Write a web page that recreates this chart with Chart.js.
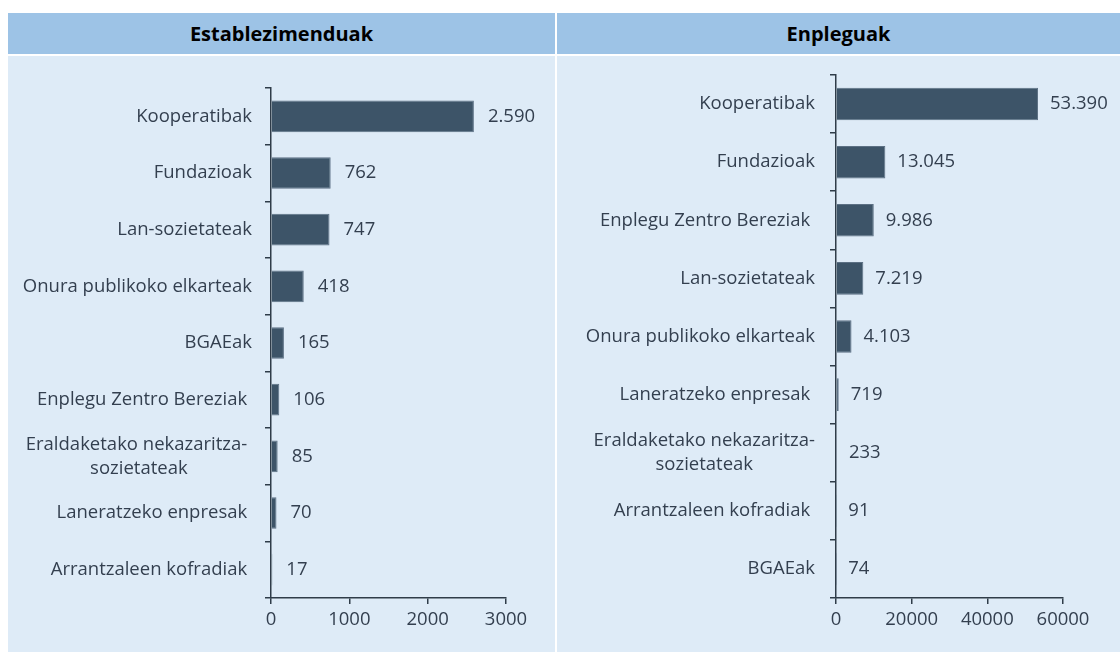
<!DOCTYPE html>
<html>
<head>
<meta charset="utf-8">
<script src="https://cdn.jsdelivr.net/npm/chart.js@4.4.1/dist/chart.umd.min.js"></script>
<style>
  body { margin: 0; background: #fff; font-family: "Open Sans", sans-serif; }
  .panel { position: absolute; top: 13px; }
  .head { height: 41px; line-height: 41px; background: #9dc3e6; color: #000; font-weight: bold; font-size: 20px; text-align: center; }
  .body { margin-top: 2px; height: 596px; background: #deebf7; }
  canvas { display: block; }
</style>
</head>
<body>
<div class="panel" style="left:8px;width:547px">
  <div class="head">Establezimenduak</div>
  <div class="body"><canvas id="establezimenduak" width="547" height="596"></canvas></div>
</div>
<div class="panel" style="left:557px;width:563px">
  <div class="head">Enpleguak</div>
  <div class="body"><canvas id="enpleguak" width="563" height="596"></canvas></div>
</div>
<script>
// Establezimenduak (jatorrizko izenek amaierako hutsunea dute batzuetan)
const kategoriakEst = ['Kooperatibak', 'Fundazioak', 'Lan-sozietateak', 'Onura publikoko elkarteak', 'BGAEak',
  'Enplegu Zentro Bereziak ', ['Eraldaketako nekazaritza- ', 'sozietateak'], 'Laneratzeko enpresak ', 'Arrantzaleen kofradiak '];
const balioakEst = [2590, 762, 747, 418, 165, 106, 85, 70, 17];
const tickakEst = [0, 1000, 2000, 3000];

// Enpleguak
const kategoriakEnp = ['Kooperatibak', 'Fundazioak', 'Enplegu Zentro Bereziak ', 'Lan-sozietateak', 'Onura publikoko elkarteak',
  'Laneratzeko enpresak ', ['Eraldaketako nekazaritza-', 'sozietateak'], 'Arrantzaleen kofradiak ', 'BGAEak'];
const balioakEnp = [53390, 13045, 9986, 7219, 4103, 719, 233, 91, 74];
const tickakEnp = [0, 20000, 40000, 60000];

const barraKolorea = '#3d5468';
const ardatzKolorea = '#2f3c49';
const testuKolorea = '#333f4f';
const letraTamaina = 18.5;
const letra = letraTamaina + 'px "Open Sans"';

// 2590 -> "2.590"
function formatua(n) {
  return String(n).replace(/\B(?=(\d{3})+(?!\d))/g, '.');
}

// kategorien izenak (lerro anitzak erdiratuta) eta balioak barren ondoan
const etiketak = {
  id: 'etiketak',
  afterDatasetsDraw(chart, args, opts) {
    const ctx = chart.ctx;
    const x = chart.scales.x, y = chart.scales.y;
    ctx.save();
    ctx.font = letra;
    ctx.fillStyle = testuKolorea;
    ctx.textBaseline = 'middle';
    chart.data.labels.forEach((lab, i) => {
      const lerroak = Array.isArray(lab) ? lab : [lab];
      const cy = y.getPixelForValue(i);
      const w = Math.max(...lerroak.map(l => ctx.measureText(l).width));
      const cx = y.right - opts.tartea - w / 2;
      ctx.textAlign = 'center';
      lerroak.forEach((l, k) => ctx.fillText(l, cx, cy + (k - (lerroak.length - 1) / 2) * 24));
      const v = chart.data.datasets[0].data[i];
      ctx.textAlign = 'left';
      ctx.fillText(formatua(v), x.getPixelForValue(v) + opts.hutsunea, cy);
    });
    ctx.restore();
  }
};

function grafikoa(id, kategoriak, balioak, tickak, d) {
  new Chart(document.getElementById(id), {
    type: 'bar',
    data: {
      labels: kategoriak,
      datasets: [{
        data: balioak,
        backgroundColor: barraKolorea,
        borderColor: '#5c7084',
        borderWidth: 1,
        barPercentage: 0.56,
        categoryPercentage: 1
      }]
    },
    options: {
      indexAxis: 'y',
      responsive: false,
      animation: false,
      layout: { padding: { top: d.goian, right: d.eskuin, left: 0, bottom: 0 } },
      plugins: {
        legend: { display: false },
        tooltip: { enabled: false },
        etiketak: { tartea: d.tartea, hutsunea: d.hutsunea }
      },
      scales: {
        x: {
          min: 0,
          max: tickak[tickak.length - 1],
          afterBuildTicks: s => { s.ticks = tickak.map(v => ({ value: v })); },
          afterFit: s => { s.height = 54; },
          border: { color: ardatzKolorea, width: 1.5 },
          grid: { drawOnChartArea: false, tickLength: 6, color: ardatzKolorea, lineWidth: 1.5 },
          ticks: {
            color: testuKolorea,
            font: { family: 'Open Sans', size: letraTamaina },
            padding: 5,
            callback: v => String(v)
          }
        },
        y: {
          afterFit: s => { s.width = d.ezker; },
          border: { color: ardatzKolorea, width: 1.5 },
          grid: { drawOnChartArea: false, tickLength: 6, color: ardatzKolorea, lineWidth: 1.5, offset: true },
          ticks: { display: false }
        }
      }
    },
    plugins: [etiketak]
  });
}

grafikoa('establezimenduak', kategoriakEst, balioakEst, tickakEst,
  { goian: 32, eskuin: 49, ezker: 263, tartea: 19, hutsunea: 14 });
grafikoa('enpleguak', kategoriakEnp, balioakEnp, tickakEnp,
  { goian: 19, eskuin: 57, ezker: 279, tartea: 21, hutsunea: 12 });
</script>
</body>
</html>
